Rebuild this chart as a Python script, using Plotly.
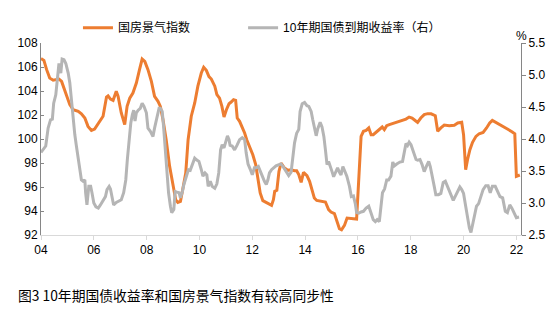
import plotly.graph_objects as go

# ---- data (decimal years) ----
idx_t = [2004.00, 2004.11, 2004.21, 2004.33, 2004.46, 2004.58, 2004.68, 2004.78, 2004.90, 2005.03,
         2005.09, 2005.22, 2005.41, 2005.53, 2005.66, 2005.78, 2005.91, 2006.03, 2006.17, 2006.28,
         2006.35, 2006.48, 2006.54, 2006.63, 2006.73, 2006.85, 2006.92, 2007.04, 2007.17, 2007.26,
         2007.36, 2007.48, 2007.61, 2007.73, 2007.83, 2007.93, 2008.05, 2008.18, 2008.30, 2008.43,
         2008.52, 2008.62, 2008.74, 2008.87, 2009.00, 2009.10, 2009.18, 2009.28, 2009.35, 2009.48,
         2009.57, 2009.69, 2009.82, 2009.94, 2010.07, 2010.16, 2010.26, 2010.36, 2010.45, 2010.58,
         2010.66, 2010.76, 2010.85, 2010.93, 2011.02, 2011.12, 2011.20, 2011.29, 2011.37, 2011.43,
         2011.52, 2011.62, 2011.71, 2011.79, 2011.89, 2012.02, 2012.13, 2012.21, 2012.30, 2012.40,
         2012.53, 2012.65, 2012.73, 2012.80, 2012.85, 2012.93, 2013.01, 2013.09, 2013.22, 2013.34,
         2013.47, 2013.60, 2013.68, 2013.76, 2013.85, 2013.94, 2014.07, 2014.17, 2014.27, 2014.35,
         2014.44, 2014.61, 2014.77, 2014.89, 2014.98, 2015.11, 2015.20, 2015.30, 2015.38, 2015.49,
         2015.59, 2015.70, 2015.83, 2015.95, 2016.02, 2016.12, 2016.21, 2016.31, 2016.41, 2016.50,
         2016.58, 2016.68, 2016.81, 2016.92, 2017.00, 2017.09, 2017.19, 2017.29, 2017.42, 2017.57,
         2017.69, 2017.82, 2017.94, 2018.05, 2018.18, 2018.26, 2018.38, 2018.51, 2018.64, 2018.77,
         2018.93, 2019.02, 2019.14, 2019.27, 2019.46, 2019.65, 2019.78, 2019.93, 2020.00, 2020.08,
         2020.15, 2020.24, 2020.34, 2020.47, 2020.59, 2020.74, 2020.87, 2020.99, 2021.09, 2021.22,
         2021.35, 2021.50, 2021.66, 2021.83, 2021.94, 2022.00, 2022.08, 2022.13]
idx_v = [106.70, 106.55, 105.80, 105.08, 104.90, 104.94, 105.00, 104.80, 104.10, 103.30,
         102.86, 102.44, 102.30, 102.10, 101.75, 101.05, 100.72, 100.83, 101.33, 101.66,
         101.90, 103.50, 103.60, 103.33, 103.22, 103.97, 103.55, 102.17, 101.20, 102.72,
         103.40, 103.83, 104.66, 105.78, 106.66, 106.47, 105.78, 104.80, 103.55, 103.14,
         102.72, 101.60, 99.94, 97.72, 96.05, 94.94, 94.72, 94.80, 95.60, 97.16,
         99.94, 101.90, 103.00, 104.40, 105.50, 105.97, 105.72, 105.20, 105.00, 104.40,
         103.70, 103.40, 102.72, 101.83, 102.44, 102.94, 103.08, 103.27, 103.22, 101.75,
         101.47, 101.00, 100.50, 99.94, 99.39, 98.69, 97.86, 96.88, 95.50, 94.86,
         94.72, 94.58, 94.47, 94.94, 95.64, 95.72, 97.30, 97.99, 97.58, 97.39,
         97.44, 97.36, 97.36, 97.03, 96.39, 97.22, 96.94, 96.47, 95.77, 95.08,
         94.88, 94.83, 94.75, 94.11, 93.91, 93.78, 93.14, 92.53, 92.44, 92.80,
         93.41, 93.41, 93.36, 93.33, 96.33, 100.22, 100.64, 100.72, 100.92, 100.36,
         100.36, 100.55, 100.83, 101.00, 100.78, 101.11, 101.20, 101.28, 101.39, 101.52,
         101.55, 101.66, 101.83, 101.75, 101.52, 101.39, 101.75, 102.03, 102.11, 102.10,
         101.94, 100.64, 100.92, 101.16, 101.11, 101.15, 101.33, 101.39, 100.36, 97.44,
         98.28, 99.11, 99.72, 100.22, 100.44, 100.55, 100.92, 101.33, 101.55, 101.39,
         101.28, 101.05, 100.83, 100.61, 100.44, 96.89, 96.94, 97.00]

bond_t = [2004.00, 2004.08, 2004.18, 2004.27, 2004.36, 2004.43, 2004.48, 2004.56, 2004.63, 2004.68,
          2004.71, 2004.75, 2004.80, 2004.87, 2004.94, 2005.03, 2005.09, 2005.15, 2005.22, 2005.28,
          2005.34, 2005.41, 2005.47, 2005.53, 2005.59, 2005.66, 2005.69, 2005.74, 2005.81, 2005.88,
          2005.93, 2006.00, 2006.08, 2006.17, 2006.25, 2006.35, 2006.44, 2006.50, 2006.58, 2006.63,
          2006.69, 2006.75, 2006.85, 2006.96, 2007.04, 2007.13, 2007.21, 2007.27, 2007.33, 2007.40,
          2007.46, 2007.51, 2007.56, 2007.61, 2007.68, 2007.76, 2007.83, 2007.90, 2007.99, 2008.05,
          2008.14, 2008.24, 2008.30, 2008.39, 2008.47, 2008.52, 2008.59, 2008.64, 2008.71, 2008.77,
          2008.83, 2008.90, 2008.95, 2009.03, 2009.08, 2009.15, 2009.23, 2009.28, 2009.35, 2009.41,
          2009.50, 2009.58, 2009.65, 2009.73, 2009.82, 2009.90, 2009.98, 2010.07, 2010.13, 2010.21,
          2010.28, 2010.33, 2010.41, 2010.48, 2010.58, 2010.66, 2010.73, 2010.80, 2010.86, 2010.93,
          2010.99, 2011.06, 2011.12, 2011.16, 2011.24, 2011.33, 2011.42, 2011.52, 2011.62, 2011.71,
          2011.77, 2011.84, 2011.92, 2012.00, 2012.08, 2012.15, 2012.23, 2012.30, 2012.38, 2012.46,
          2012.53, 2012.59, 2012.65, 2012.73, 2012.80, 2012.90, 2013.01, 2013.09, 2013.18, 2013.28,
          2013.38, 2013.47, 2013.53, 2013.60, 2013.68, 2013.76, 2013.81, 2013.89, 2013.98, 2014.07,
          2014.14, 2014.23, 2014.29, 2014.35, 2014.42, 2014.48, 2014.57, 2014.64, 2014.71, 2014.77,
          2014.83, 2014.89, 2014.96, 2015.02, 2015.08, 2015.15, 2015.23, 2015.30, 2015.36, 2015.43,
          2015.49, 2015.58, 2015.68, 2015.75, 2015.83, 2015.90, 2015.95, 2016.03, 2016.12, 2016.21,
          2016.31, 2016.41, 2016.50, 2016.58, 2016.66, 2016.73, 2016.81, 2016.88, 2016.93, 2017.01,
          2017.09, 2017.16, 2017.25, 2017.32, 2017.38, 2017.47, 2017.59, 2017.69, 2017.76, 2017.82,
          2017.88, 2017.94, 2018.01, 2018.07, 2018.13, 2018.20, 2018.26, 2018.35, 2018.43, 2018.51,
          2018.60, 2018.68, 2018.74, 2018.80, 2018.89, 2018.95, 2019.05, 2019.14, 2019.23, 2019.31,
          2019.39, 2019.46, 2019.52, 2019.61, 2019.68, 2019.78, 2019.86, 2019.93, 2020.00, 2020.06,
          2020.15, 2020.22, 2020.28, 2020.34, 2020.42, 2020.49, 2020.57, 2020.65, 2020.74, 2020.84,
          2020.93, 2021.01, 2021.09, 2021.20, 2021.28, 2021.38, 2021.48, 2021.58, 2021.66, 2021.75,
          2021.83, 2021.92, 2022.00, 2022.10]
bond_v = [3.79, 3.83, 3.89, 4.17, 4.30, 4.31, 4.56, 4.69, 4.93, 5.18,
          5.08, 5.03, 5.25, 5.24, 5.18, 5.03, 4.88, 4.61, 4.35, 4.07,
          3.89, 3.70, 3.52, 3.36, 3.34, 3.36, 3.16, 2.97, 3.26, 3.26,
          3.16, 3.00, 2.94, 2.92, 2.97, 3.03, 3.10, 3.21, 3.26, 3.22,
          3.08, 2.97, 3.01, 3.04, 3.05, 3.16, 3.36, 3.68, 3.99, 4.25,
          4.38, 4.45, 4.28, 4.41, 4.45, 4.48, 4.56, 4.51, 4.41, 4.17,
          4.12, 4.04, 4.17, 4.35, 4.48, 4.48, 4.43, 4.20, 3.83, 3.47,
          3.16, 2.95, 2.85, 2.90, 3.18, 3.17, 3.16, 3.08, 3.17, 3.29,
          3.42, 3.52, 3.51, 3.60, 3.70, 3.67, 3.65, 3.52, 3.42, 3.47,
          3.44, 3.26, 3.34, 3.26, 3.23, 3.30, 3.47, 3.83, 3.91, 3.86,
          3.94, 4.05, 3.99, 3.90, 3.89, 3.83, 3.90, 3.99, 4.02, 3.99,
          3.78, 3.61, 3.53, 3.44, 3.55, 3.55, 3.57, 3.51, 3.42, 3.34,
          3.29, 3.36, 3.47, 3.52, 3.55, 3.58, 3.60, 3.61, 3.56, 3.49,
          3.43, 3.48, 3.68, 3.94, 4.09, 4.15, 4.43, 4.55, 4.57, 4.52,
          4.51, 4.43, 4.30, 4.17, 4.05, 4.16, 4.26, 4.19, 4.04, 3.83,
          3.60, 3.65, 3.58, 3.49, 3.41, 3.48, 3.55, 3.48, 3.44, 3.57,
          3.51, 3.42, 3.26, 3.10, 3.11, 2.99, 2.85, 2.84, 2.86, 2.87,
          2.92, 2.95, 2.84, 2.74, 2.71, 2.74, 2.71, 2.97, 3.16, 3.22,
          3.36, 3.36, 3.42, 3.64, 3.58, 3.61, 3.64, 3.65, 3.78, 3.93,
          3.90, 3.95, 3.91, 3.83, 3.78, 3.68, 3.67, 3.68, 3.60, 3.49,
          3.58, 3.65, 3.57, 3.42, 3.26, 3.13, 3.13, 3.15, 3.32, 3.34,
          3.26, 3.20, 3.13, 3.04, 3.10, 3.20, 3.25, 3.21, 3.15, 3.00,
          2.77, 2.61, 2.54, 2.66, 2.82, 2.95, 2.99, 3.10, 3.21, 3.27,
          3.27, 3.16, 3.26, 3.26, 3.18, 3.10, 3.08, 2.87, 2.85, 2.97,
          2.92, 2.84, 2.77, 2.78]

tick_years = [2004, 2006, 2008, 2010, 2012, 2014, 2016, 2018, 2020, 2022]
tick_text = ["04", "06", "08", "10", "12", "14", "16", "18", "20", "22"]

name_idx = "国房景气指数"
name_bond = "10年期国债到期收益率（右）"
caption = "图3 10年期国债收益率和国房景气指数有较高同步性"

FONT = "Liberation Sans, Arial, Noto Sans CJK SC, sans-serif"
LEG_FONT = dict(size=12, family="Liberation Sans, Noto Sans CJK SC", color="#000000")

fig = go.Figure()
fig.add_trace(go.Scatter(x=idx_t, y=idx_v, mode="lines", name=name_idx, legend="legend",
                         line=dict(color="#ED7D31", width=3)))
fig.add_trace(go.Scatter(x=bond_t, y=bond_v, mode="lines", name=name_bond, yaxis="y2",
                         legend="legend2", line=dict(color="#B5B5B5", width=3)))

fig.update_layout(
    width=556, height=324,
    margin=dict(l=41, r=35, t=43, b=89),
    paper_bgcolor="white", plot_bgcolor="white",
    font=dict(family=FONT, size=12, color="#000000"),
    showlegend=True,
    legend=dict(orientation="h", x=0.077, xanchor="left", y=1.08, yanchor="middle",
                font=LEG_FONT, bgcolor="rgba(0,0,0,0)"),
    legend2=dict(orientation="h", x=0.421, xanchor="left", y=1.08, yanchor="middle",
                 font=LEG_FONT, bgcolor="rgba(0,0,0,0)"),
    xaxis=dict(range=[2004, 2022.175], tickvals=tick_years, ticktext=tick_text,
               showgrid=False, zeroline=False, showline=True, linecolor="#D9D9D9", linewidth=1,
               ticks="outside", ticklen=4, tickcolor="#D9D9D9", tickfont=dict(size=12)),
    yaxis=dict(range=[92, 108], dtick=2, tick0=92, showgrid=False, zeroline=False,
               showline=True, linecolor="#868686", linewidth=1,
               ticks="inside", ticklen=3, tickcolor="#868686", tickfont=dict(size=12)),
    yaxis2=dict(range=[2.5, 5.5], dtick=0.5, tick0=2.5, tickformat=".1f", overlaying="y",
                side="right", showgrid=False, zeroline=False,
                showline=True, linecolor="#868686", linewidth=1,
                ticks="outside", ticklen=4, tickcolor="#868686", tickfont=dict(size=12)),
    annotations=[
        dict(text="%", xref="paper", yref="paper", x=1.0, y=1.039, xanchor="center",
             yanchor="middle", showarrow=False, font=dict(size=12)),
        dict(text=caption, xref="paper", yref="paper", x=-0.052, y=-0.311, xanchor="left",
             yanchor="middle", showarrow=False,
             font=dict(size=13.8, family="Noto Sans CJK SC, sans-serif", color="#000000")),
    ],
)

fig.write_html("out.html")
